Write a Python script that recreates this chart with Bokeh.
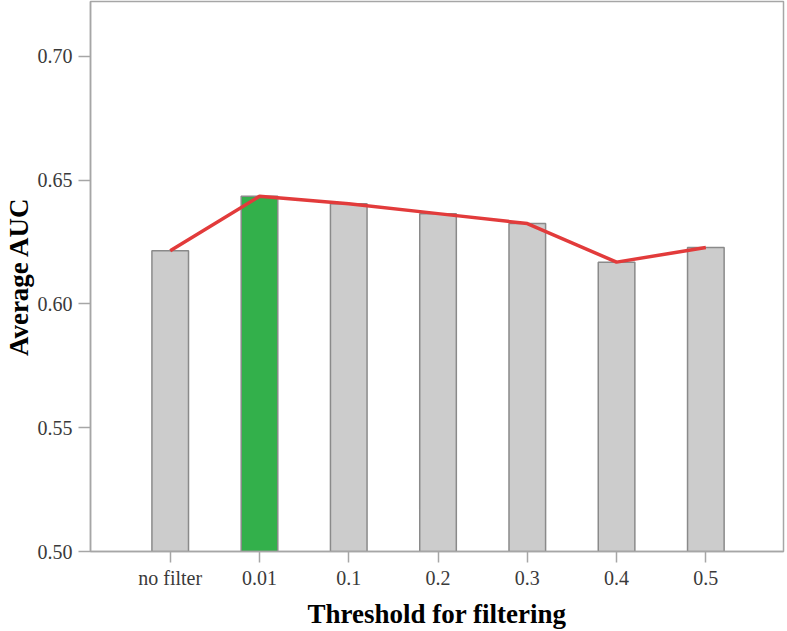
from bokeh.plotting import figure
from bokeh.models import ColumnDataSource, FixedTicker, PrintfTickFormatter, Range1d
from bokeh.embed import file_html
from bokeh.resources import INLINE

# ---- data ----
categories = ["no filter", "0.01", "0.1", "0.2", "0.3", "0.4", "0.5"]
avg_auc = [0.6215, 0.6435, 0.6405, 0.6365, 0.6325, 0.6169, 0.6228]
highlight = "0.01"
y_ticks = [0.50, 0.55, 0.60, 0.65, 0.70]

FONT = "Liberation Serif"
GRAY_BAR = "#cccccc"
GREEN_BAR = "#33b04b"
EDGE = "#8a8a8a"
AXIS = "#a6a6a6"

xs = list(range(len(categories)))
colors = [GREEN_BAR if c == highlight else GRAY_BAR for c in categories]
src = ColumnDataSource(dict(x=xs, top=avg_auc, color=colors))

x_start, x_end = -0.893, 6.87
y_start, y_end = 0.50, 0.7222

p = figure(width=787, height=631, output_backend="svg", toolbar_location=None,
           x_range=Range1d(x_start, x_end), y_range=Range1d(y_start, y_end),
           min_border_left=87, min_border_right=4, min_border_top=1, min_border_bottom=80)

p.vbar(x="x", top="top", bottom=y_start, width=0.41, fill_color="color",
       line_color=EDGE, line_width=1.5, source=src)
p.line(x="x", y="top", line_color="#e23b3b", line_width=3.5, source=src)

p.xgrid.visible = False
p.ygrid.visible = False
p.outline_line_color = AXIS
p.outline_line_width = 1.5
p.background_fill_color = "white"
p.border_fill_color = "white"

# y axis
ya = p.yaxis[0]
ya.ticker = FixedTicker(ticks=y_ticks)
ya.formatter = PrintfTickFormatter(format="%.2f")
ya.major_tick_out = 12
ya.major_tick_in = 0
ya.minor_tick_line_color = None
ya.axis_line_color = AXIS
ya.axis_line_width = 1.5
ya.major_tick_line_color = AXIS
ya.major_tick_line_width = 1.5
ya.major_label_text_font = FONT
ya.major_label_text_font_size = "20px"
ya.major_label_text_color = "#3a3a3a"
ya.major_label_standoff = 6
ya.axis_label = "Average AUC"
ya.axis_label_text_font = FONT
ya.axis_label_text_font_style = "bold"
ya.axis_label_text_font_size = "27px"
ya.axis_label_text_color = "black"
ya.axis_label_standoff = 1

# x axis
xa = p.xaxis[0]
xa.ticker = FixedTicker(ticks=xs)
xa.major_label_overrides = {i: c for i, c in zip(xs, categories)}
xa.major_tick_out = 11
xa.major_tick_in = 0
xa.minor_tick_line_color = None
xa.axis_line_color = AXIS
xa.axis_line_width = 1.5
xa.major_tick_line_color = AXIS
xa.major_tick_line_width = 1.5
xa.major_label_text_font = FONT
xa.major_label_text_font_size = "20px"
xa.major_label_text_color = "#3a3a3a"
xa.major_label_standoff = 4
xa.axis_label = "Threshold for filtering"
xa.axis_label_text_font = FONT
xa.axis_label_text_font_style = "bold"
xa.axis_label_text_font_size = "27px"
xa.axis_label_text_color = "black"
xa.axis_label_standoff = 7

open("out.html", "w").write(file_html(p, INLINE))
